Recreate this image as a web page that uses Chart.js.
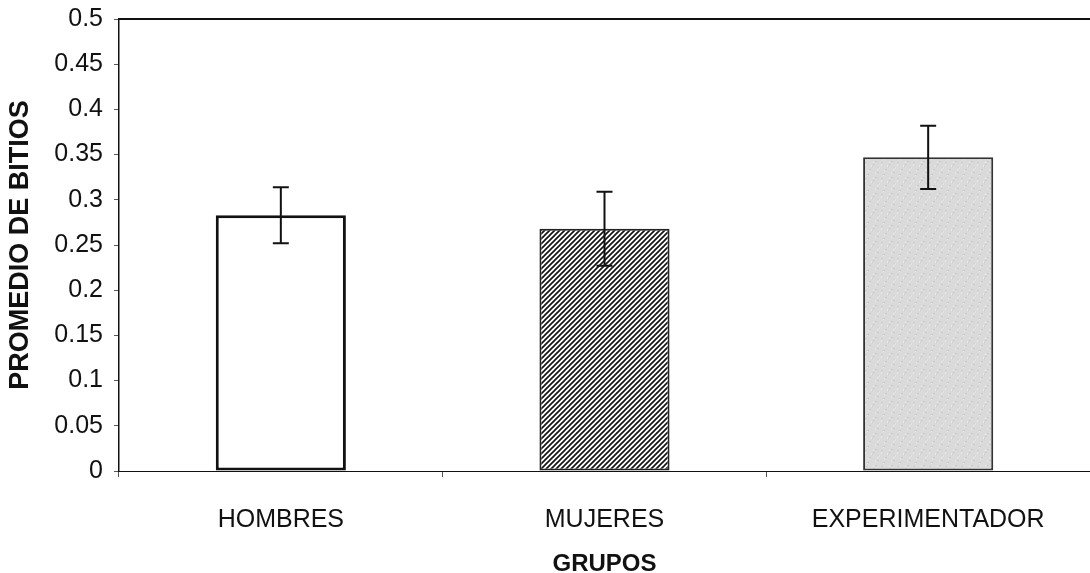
<!DOCTYPE html>
<html><head><meta charset="utf-8">
<script src="https://cdn.jsdelivr.net/npm/chart.js@4.4.1/dist/chart.umd.min.js"></script>
<style>html,body{margin:0;padding:0;background:#fff}#w{width:1090px;height:573px}</style>
</head><body><div id="w"><canvas id="c" width="1090" height="573"></canvas></div>
<script>
const categories = ["HOMBRES", "MUJERES", "EXPERIMENTADOR"];
const means = [0.283, 0.268, 0.347];
const errors = [0.031, 0.041, 0.035];
const yTicks = [0, 0.05, 0.1, 0.15, 0.2, 0.25, 0.3, 0.35, 0.4, 0.45, 0.5];
const xTitle = "GRUPOS";
const yTitle = "PROMEDIO DE BITIOS";

function hatch() {
  const c = document.createElement('canvas');
  c.width = 5; c.height = 5;
  const g = c.getContext('2d');
  g.fillStyle = '#fff'; g.fillRect(0,0,5,5);
  g.strokeStyle = '#111'; g.lineWidth = 1.6;
  g.beginPath();
  g.moveTo(-1,6); g.lineTo(6,-1);
  g.moveTo(-1,1); g.lineTo(1,-1);
  g.moveTo(4,6); g.lineTo(6,4);
  g.stroke();
  return g.createPattern(c, 'repeat');
}
function speckle() {
  const c = document.createElement('canvas');
  c.width = 16; c.height = 16;
  const g = c.getContext('2d');
  g.fillStyle = '#dadada'; g.fillRect(0,0,16,16);
  const pts = [[1,2],[5,9],[9,4],[13,12],[3,14],[11,1],[7,6],[14,7]];
  g.fillStyle = '#c9c9c9';
  pts.forEach(p => g.fillRect(p[0], p[1], 2, 1));
  g.fillStyle = '#e6e6e6';
  pts.forEach(p => g.fillRect((p[0]+6)%16, (p[1]+3)%16, 1, 2));
  return g.createPattern(c, 'repeat');
}

const errPlugin = {
  id: 'err',
  afterDatasetsDraw(chart) {
    const ctx = chart.ctx, x = chart.scales.x, y = chart.scales.y;
    ctx.save();
    ctx.strokeStyle = '#111'; ctx.lineWidth = 2;
    means.forEach((m, i) => {
      const px = x.getPixelForValue(i);
      const t = y.getPixelForValue(m + errors[i]);
      const b = y.getPixelForValue(m - errors[i]);
      ctx.beginPath();
      ctx.moveTo(px, t); ctx.lineTo(px, b);
      ctx.moveTo(px - 8, t); ctx.lineTo(px + 8, t);
      ctx.moveTo(px - 8, b); ctx.lineTo(px + 8, b);
      ctx.stroke();
    });
    const a = chart.chartArea;
    ctx.lineWidth = 2;
    ctx.beginPath();
    ctx.moveTo(a.left, a.top); ctx.lineTo(chart.width, a.top);
    ctx.stroke();
    ctx.restore();
  }
};

new Chart(document.getElementById('c'), {
  type: 'bar',
  data: {
    labels: categories,
    datasets: [{
      data: means,
      backgroundColor: ['#ffffff', hatch(), speckle()],
      borderColor: ['#111', '#222', '#333'],
      borderWidth: [3, 2, 2],
      borderSkipped: false,
      barPercentage: 0.402,
      categoryPercentage: 1
    }]
  },
  options: {
    responsive: false,
    animation: false,
    devicePixelRatio: 1,
    layout: { padding: { top: 19, right: 0, left: 0, bottom: 0 } },
    plugins: { legend: { display: false }, tooltip: { enabled: false } },
    scales: {
      x: {
        grid: { display: true, drawOnChartArea: false, offset: true, tickLength: 6, color: '#555', lineWidth: 1 },
        border: { color: '#111', width: 1 },
        ticks: { color: '#111', font: { family: 'Liberation Sans, Arial', size: 25 }, padding: 28 },
        title: { display: true, text: xTitle, color: '#111', font: { family: 'Liberation Sans, Arial', size: 24, weight: 'bold' }, padding: { top: 8, bottom: -6 } },
        afterFit(s) { s.height = 102; s.paddingLeft = 0; s.paddingRight = 0; }
      },
      y: {
        min: 0, max: 0.5,
        afterBuildTicks(s) { s.ticks = yTicks.map(v => ({ value: v })); },
        grid: { display: true, drawOnChartArea: false, tickLength: 5, color: '#555', lineWidth: 1 },
        border: { color: '#111', width: 1.5 },
        ticks: { color: '#111', font: { family: 'Liberation Sans, Arial', size: 25 }, padding: 11, callback: v => String(v) },
        title: { display: true, text: yTitle, color: '#111', font: { family: 'Liberation Sans, Arial', size: 27, weight: 'bold' }, padding: { top: 4, bottom: 8 } },
        afterFit(s) { s.width = 119; s.paddingTop = 0; s.paddingBottom = 0; }
      }
    }
  },
  plugins: [errPlugin]
});
</script>
</body></html>
